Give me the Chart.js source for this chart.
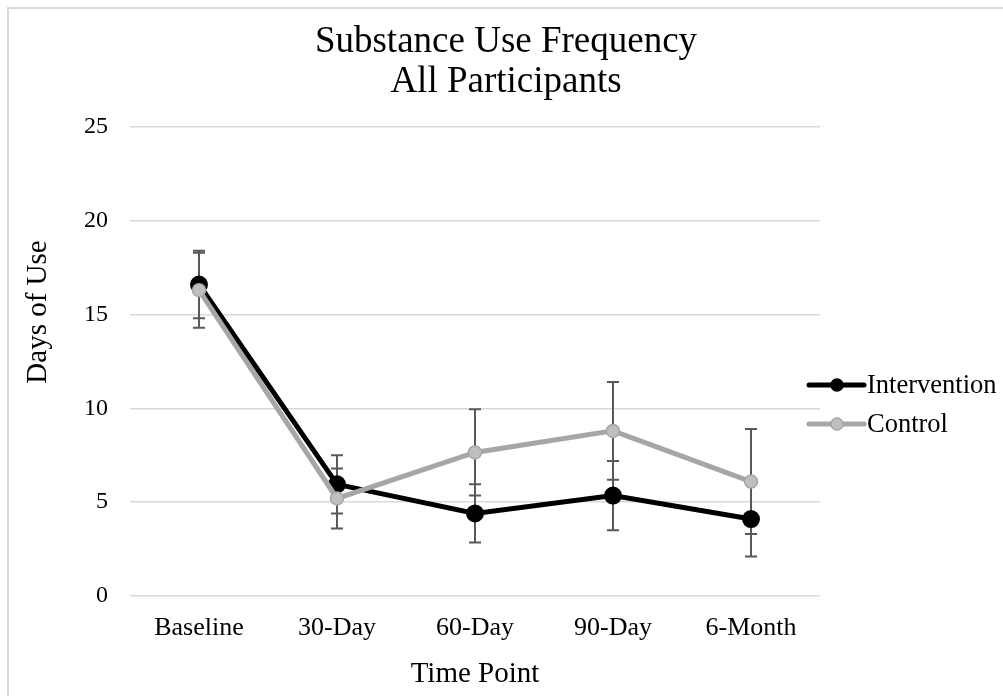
<!DOCTYPE html>
<html>
<head>
<meta charset="utf-8">
<script src="https://cdn.jsdelivr.net/npm/chart.js@4"></script>
<style>
  html, body { margin: 0; padding: 0; background: #fff; overflow: hidden; }
  #frame {
    position: absolute; left: 7px; top: 7px;
    width: 1000px; height: 700px;
    border-left: 2px solid #d9d9d9; border-top: 2px solid #d9d9d9;
  }
  #chart { display: block; }
</style>
</head>
<body>
<div id="frame"><canvas id="chart" width="994" height="687"></canvas></div>
<script>
// chart values
const timePoints = ['Baseline', '30-Day', '60-Day', '90-Day', '6-Month'];
const interventionMean = [16.6, 5.95, 4.4, 5.35, 4.1];
const interventionErr = [1.8, 1.55, 1.55, 1.85, 2.0];
const controlMean = [16.3, 5.2, 7.65, 8.8, 6.1];
const controlErr = [2.0, 1.6, 2.3, 2.6, 2.8];
const yTicks = [0, 5, 10, 15, 20, 25];

const serif = '"Liberation Serif", "Times New Roman", serif';

// vertical error bars with caps, drawn under the lines and markers
const errorBars = {
  id: 'errorBars',
  beforeDatasetsDraw(chart) {
    const ctx = chart.ctx;
    const y = chart.scales.y;
    ctx.save();
    ctx.strokeStyle = '#595959';
    ctx.lineWidth = 2;
    chart.data.datasets.forEach((ds, i) => {
      const meta = chart.getDatasetMeta(i);
      meta.data.forEach((pt, j) => {
        const top = y.getPixelForValue(ds.data[j] + ds.errors[j]);
        const bot = y.getPixelForValue(ds.data[j] - ds.errors[j]);
        ctx.beginPath();
        ctx.moveTo(pt.x, top); ctx.lineTo(pt.x, bot);
        ctx.moveTo(pt.x - 6, top); ctx.lineTo(pt.x + 6, top);
        ctx.moveTo(pt.x - 6, bot); ctx.lineTo(pt.x + 6, bot);
        ctx.stroke();
      });
    });
    ctx.restore();
  }
};

// legend with line + marker samples, and the rotated y title
const extras = {
  id: 'extras',
  afterDraw(chart) {
    const ctx = chart.ctx;
    const area = chart.chartArea;
    ctx.save();
    const items = [chart.data.datasets[0], chart.data.datasets[1]];
    const x0 = area.right - 11;
    items.forEach((ds, i) => {
      const cy = 376 + i * 39;
      ctx.strokeStyle = ds.borderColor;
      ctx.lineWidth = 5;
      ctx.lineCap = 'round';
      ctx.beginPath();
      ctx.moveTo(x0, cy); ctx.lineTo(x0 + 55, cy);
      ctx.stroke();
      ctx.beginPath();
      ctx.arc(x0 + 28, cy, 6, 0, Math.PI * 2);
      ctx.fillStyle = ds.pointBackgroundColor;
      ctx.fill();
      ctx.lineWidth = 1.5;
      ctx.strokeStyle = ds.pointBorderColor;
      ctx.stroke();
      ctx.fillStyle = '#000';
      ctx.font = '26.5px ' + serif;
      ctx.textBaseline = 'middle';
      ctx.textAlign = 'left';
      ctx.fillText(ds.label, x0 + 58, cy + 1);
    });
    ctx.translate(29, 303);
    ctx.rotate(-Math.PI / 2);
    ctx.font = '29px ' + serif;
    ctx.textAlign = 'center';
    ctx.textBaseline = 'middle';
    ctx.fillStyle = '#000';
    ctx.fillText('Days of Use', 0, 0);
    ctx.restore();
  }
};

new Chart(document.getElementById('chart'), {
  type: 'line',
  data: {
    labels: timePoints,
    datasets: [{
      label: 'Intervention',
      data: interventionMean,
      errors: interventionErr,
      borderColor: '#000000',
      borderWidth: 5,
      pointRadius: 6.5,
      pointBackgroundColor: '#000000',
      pointBorderColor: '#000000',
      tension: 0,
      order: 1
    }, {
      label: 'Control',
      data: controlMean,
      errors: controlErr,
      borderColor: '#a6a6a6',
      borderWidth: 5,
      pointRadius: 6.5,
      pointBackgroundColor: '#bfbfbf',
      pointBorderColor: '#a6a6a6',
      pointBorderWidth: 1.5,
      tension: 0,
      order: 0
    }]
  },
  options: {
    responsive: false,
    animation: false,
    layout: { padding: 0 },
    plugins: {
      legend: { display: false },
      tooltip: { enabled: false },
      title: {
        display: true,
        text: ['Substance Use Frequency', 'All Participants'],
        color: '#000',
        font: { family: serif, size: 37, weight: 'normal', lineHeight: 1.08 },
        padding: { top: 13, bottom: 25 }
      }
    },
    scales: {
      x: {
        offset: true,
        grid: { display: false, drawTicks: false },
        border: { display: false },
        ticks: { color: '#000', font: { family: serif, size: 26 }, padding: 17, maxRotation: 0 },
        title: {
          display: true, text: 'Time Point', color: '#000',
          font: { family: serif, size: 29 }, padding: { top: 0, bottom: 4 }
        },
        afterFit(scale) { scale.height = 100; }
      },
      y: {
        min: 0,
        max: 25,
        afterBuildTicks(scale) { scale.ticks = yTicks.map(v => ({ value: v })); },
        grid: { color: '#d9d9d9', lineWidth: 1.5, drawTicks: false },
        border: { display: false },
        ticks: { color: '#000', font: { family: serif, size: 24 }, padding: 22 },
        afterFit(scale) { scale.width = 121; }
      },
      // empty right-hand box that leaves room for the legend
      side: {
        type: 'linear',
        position: 'right',
        min: 0,
        max: 1,
        grid: { display: false, drawTicks: false },
        border: { display: false },
        ticks: { display: false },
        afterFit(scale) { scale.width = 183; }
      }
    }
  },
  plugins: [errorBars, extras]
});
</script>
</body>
</html>
